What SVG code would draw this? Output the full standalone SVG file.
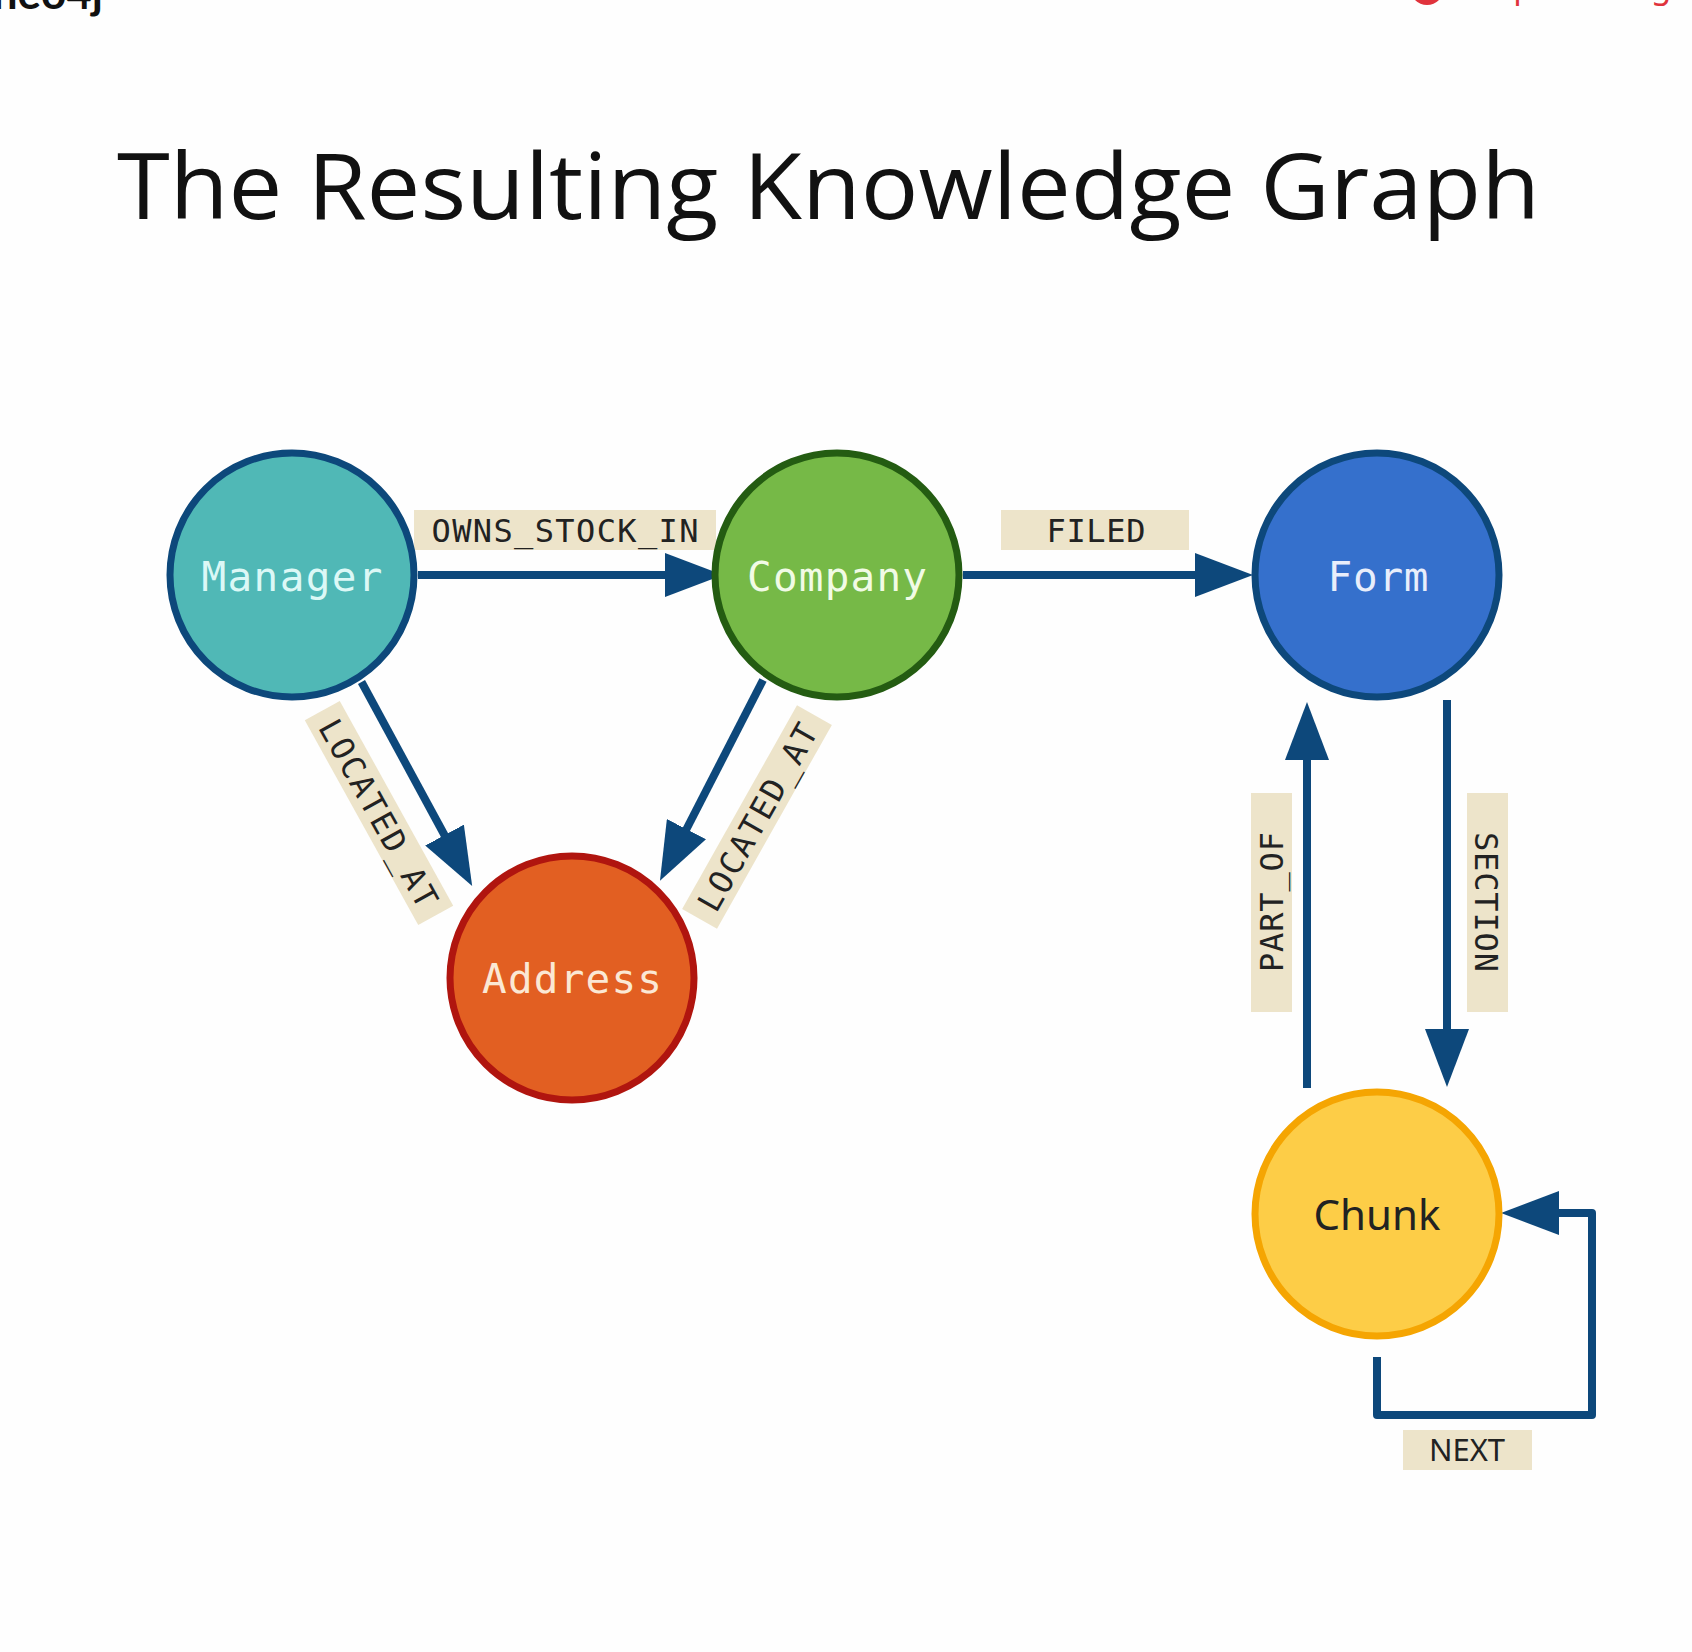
<svg xmlns="http://www.w3.org/2000/svg" width="1692" height="1652" viewBox="0 0 1692 1652">
<style>
.node-label{font-family:"DejaVu Sans Mono","Liberation Mono",monospace;font-size:41px;text-anchor:middle}
.rel-box{fill:#ede4ca}
.rel-label{font-family:"DejaVu Sans Mono","Liberation Mono",monospace;font-size:32px;fill:#222;text-anchor:middle}
.rel-sans{font-family:"Noto Sans","Open Sans",sans-serif;font-size:31px;fill:#222;text-anchor:middle}
.edge{fill:none;stroke:#0d487b;stroke-width:8;stroke-linejoin:round}
</style>
<defs>
<marker id="arrow" markerUnits="userSpaceOnUse" markerWidth="60" markerHeight="44" refX="1" refY="22" orient="auto">
<path d="M0,0 L58,22 L0,44 z" fill="#0d487b"/>
</marker>
</defs>
<rect x="0" y="0" width="1692" height="1652" fill="#fefefe"/>
<g id="logos">
<text x="103" y="9" font-family="Lato,'Noto Sans',sans-serif" font-size="44" font-weight="bold" fill="#111" text-anchor="end">neo4j</text>
<circle cx="1427" cy="-12" r="17" fill="#e0333c"/>
<text x="1452" y="-2" font-family="'Noto Sans',sans-serif" font-size="33" fill="#e0333c">DeepLearning.AI</text>
</g>
<text id="title" x="117" y="219" font-family="'Open Sans','Noto Sans',sans-serif" font-size="92" fill="#111" textLength="1423" lengthAdjust="spacingAndGlyphs">The Resulting Knowledge Graph</text>
<g id="connectors">
<g id="e-owns">
<path class="edge" d="M418,575 H666" marker-end="url(#arrow)"/>
<rect class="rel-box" x="414" y="510" width="302" height="40"/>
<text class="rel-label" x="565" y="542" textLength="267" lengthAdjust="spacing">OWNS_STOCK_IN</text>
</g>
<g id="e-filed">
<path class="edge" d="M963,575 H1196" marker-end="url(#arrow)"/>
<rect class="rel-box" x="1001" y="510" width="188" height="40"/>
<text class="rel-label" x="1096" y="542" textLength="99" lengthAdjust="spacing">FILED</text>
</g>
<g id="e-loc1">
<path class="edge" d="M361.5,682 L445,836" marker-end="url(#arrow)"/>
<g transform="translate(379,813) rotate(61)">
<rect class="rel-box" x="-117" y="-20" width="234" height="40"/>
<text class="rel-label" x="0" y="12" textLength="210" lengthAdjust="spacing">LOCATED_AT</text>
</g>
</g>
<g id="e-loc2">
<path class="edge" d="M763,680 L686,830" marker-end="url(#arrow)"/>
<g transform="translate(757,817) rotate(-60.6)">
<rect class="rel-box" x="-117" y="-20" width="234" height="40"/>
<text class="rel-label" x="0" y="12" textLength="210" lengthAdjust="spacing">LOCATED_AT</text>
</g>
</g>
<g id="e-partof">
<path class="edge" d="M1307,1088 V759" marker-end="url(#arrow)"/>
<rect class="rel-box" x="1251" y="793" width="41" height="219"/>
<text class="rel-label" transform="rotate(-90 1283 902)" x="1283" y="902" textLength="140" lengthAdjust="spacing">PART_OF</text>
</g>
<g id="e-section">
<path class="edge" d="M1447,700 V1030" marker-end="url(#arrow)"/>
<rect class="rel-box" x="1467" y="793" width="41" height="219"/>
<text class="rel-label" transform="rotate(90 1475 902)" x="1475" y="902" textLength="140" lengthAdjust="spacing">SECTION</text>
</g>
<g id="e-next">
<path class="edge" d="M1377,1357 V1415 H1592 V1213 H1558" marker-end="url(#arrow)"/>
<rect class="rel-box" x="1403" y="1430" width="129" height="40"/>
<text class="rel-sans" x="1467" y="1461">NEXT</text>
</g>
</g>
<g id="node-manager">
<circle cx="292" cy="575" r="122" fill="#50b8b6" stroke="#0d487b" stroke-width="7"/>
<text class="node-label" x="292" y="591" fill="#dcf8f6" textLength="181" lengthAdjust="spacing">Manager</text>
</g>
<g id="node-company">
<circle cx="837" cy="575" r="122" fill="#76b947" stroke="#245c12" stroke-width="7"/>
<text class="node-label" x="837" y="591" fill="#f1fbe5" textLength="180" lengthAdjust="spacing">Company</text>
</g>
<g id="node-form">
<circle cx="1377" cy="575" r="122" fill="#3570cc" stroke="#0d487b" stroke-width="7"/>
<text class="node-label" x="1378" y="591" fill="#e8eefb" textLength="101" lengthAdjust="spacing">Form</text>
</g>
<g id="node-address">
<circle cx="572" cy="978" r="122" fill="#e25f22" stroke="#b0150f" stroke-width="7"/>
<text class="node-label" x="572" y="993" fill="#fbe8d4" textLength="180" lengthAdjust="spacing">Address</text>
</g>
<g id="node-chunk">
<circle cx="1377" cy="1214" r="122" fill="#fdcd47" stroke="#f5a502" stroke-width="7"/>
<text x="1377" y="1230" font-family="'Noto Sans','Open Sans',sans-serif" font-size="42" fill="#222" text-anchor="middle">Chunk</text>
</g>
</svg>
